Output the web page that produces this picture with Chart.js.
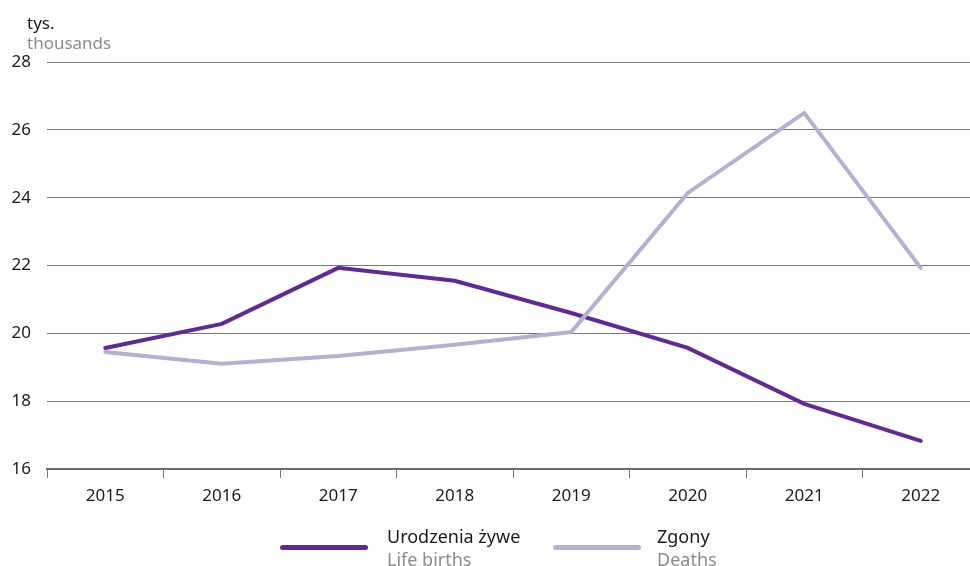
<!DOCTYPE html>
<html>
<head>
<meta charset="utf-8">
<script src="https://cdn.jsdelivr.net/npm/chart.js@4"></script>
<style>
  html, body { margin: 0; padding: 0; background: #fff; overflow: hidden; width: 970px; height: 566px; }
  #wrap { position: relative; width: 980px; height: 566px; }
  #chart { position: absolute; left: 0; top: 0; }
  .txt { position: absolute; font-family: "Noto Sans", sans-serif; font-size: 17px; line-height: 20px; white-space: nowrap; }
  .leg { font-size: 18px; line-height: 22px; }
  .pl { color: #1a1a1a; }
  .en { color: #8c8c8c; }
  .swatch { position: absolute; height: 5px; border-radius: 3px; }
</style>
</head>
<body>
<div id="wrap">
  <canvas id="chart" width="980" height="566"></canvas>
  <div class="txt pl" style="left:27px; top:13px;">tys.</div>
  <div class="txt en" style="left:27px; top:33px;">thousands</div>

  <div class="swatch" style="left:280px; top:545px; width:88px; background:#5f2a96;"></div>
  <div class="txt leg pl" style="left:387px; top:525px;">Urodzenia żywe</div>
  <div class="txt leg en" style="left:387px; top:548px;">Life births</div>

  <div class="swatch" style="left:553px; top:545px; width:88px; background:#b5b0d1;"></div>
  <div class="txt leg pl" style="left:657px; top:525px;">Zgony</div>
  <div class="txt leg en" style="left:657px; top:548px;">Deaths</div>
</div>
<script>
const years = ['2015', '2016', '2017', '2018', '2019', '2020', '2021', '2022'];
const births = [19.57, 20.28, 21.93, 21.55, 20.6, 19.57, 17.92, 16.83];
const deaths = [19.45, 19.1, 19.33, 19.66, 20.04, 24.14, 26.5, 21.93];
const yTicks = [16, 18, 20, 22, 24, 26, 28];

const ctx = document.getElementById('chart').getContext('2d');
new Chart(ctx, {
    type: 'line',
    data: {
        labels: years,
        datasets: [
            {
                label: 'Zgony',
                data: deaths,
                borderColor: '#b5b0d1',
                borderWidth: 4,
                pointRadius: 0,
                tension: 0,
                borderCapStyle: 'round'
            },
            {
                label: 'Urodzenia żywe',
                data: births,
                borderColor: '#5f2a96',
                borderWidth: 4,
                pointRadius: 0,
                tension: 0,
                borderCapStyle: 'round'
            }
        ]
    },
    options: {
        responsive: false,
        animation: false,
        layout: { padding: { top: 62, left: 0, right: 1, bottom: 0 } },
        plugins: {
            legend: { display: false },
            tooltip: { enabled: false }
        },
        scales: {
            x: {
                offset: true,
                grid: {
                    offset: true,
                    drawOnChartArea: false,
                    drawTicks: true,
                    tickLength: 9,
                    color: '#7a7a7a',
                    lineWidth: 1
                },
                border: { display: true, color: '#6a6a6a', width: 2 },
                ticks: {
                    color: '#1a1a1a',
                    font: { family: 'Noto Sans', size: 17 },
                    padding: 8,
                    maxRotation: 0
                },
                afterFit: function (s) { s.height = 97; }
            },
            y: {
                min: 16,
                max: 28,
                afterBuildTicks: function (s) { s.ticks = yTicks.map(function (v) { return { value: v }; }); },
                grid: { color: '#777777', lineWidth: 1, drawTicks: false },
                border: { display: false },
                ticks: {
                    color: '#1a1a1a',
                    font: { family: 'Noto Sans', size: 17 },
                    padding: 16
                },
                afterFit: function (s) { s.width = 47; }
            }
        }
    }
});
</script>
</body>
</html>
